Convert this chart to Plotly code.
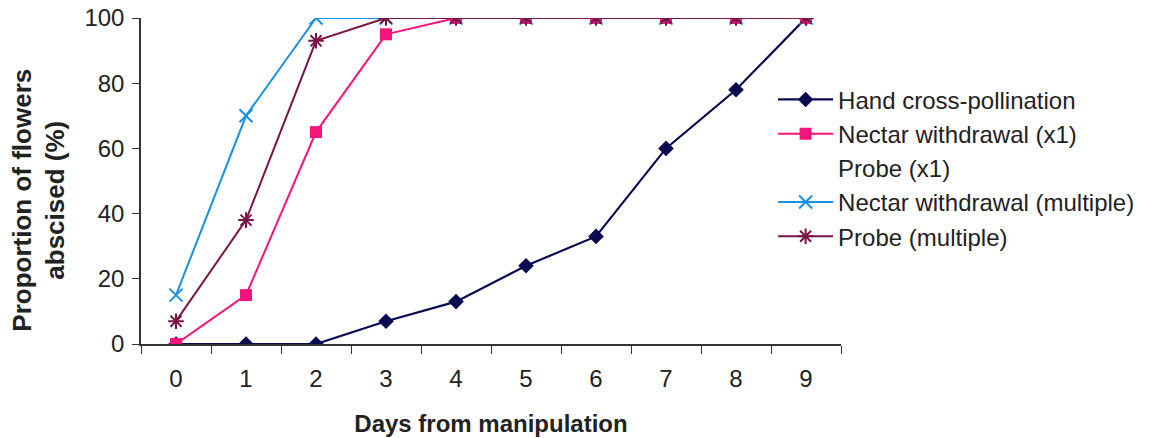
import plotly.graph_objects as go

days = ["0", "1", "2", "3", "4", "5", "6", "7", "8", "9"]
hand_cross = [0, 0, 0, 7, 13, 24, 33, 60, 78, 100]
nectar_x1 = [0, 15, 65, 95, 100, 100, 100, 100, 100, 100]
probe_x1 = [0, 0, 65, 95, 100, 100, 100, 100, 100, 100]
nectar_multi = [15, 70, 100, 100, 100, 100, 100, 100, 100, 100]
probe_multi = [7, 38, 93, 100, 100, 100, 100, 100, 100, 100]

fig = go.Figure()
# faint series drawn first so it sits under the others
fig.add_trace(go.Scatter(x=days, y=probe_x1, name="Probe (x1)", mode="lines",
                         line=dict(color="rgba(255,250,200,0.0)", width=1.5), legendrank=3))
fig.add_trace(go.Scatter(x=days, y=hand_cross, name="Hand cross-pollination", mode="lines+markers",
                         line=dict(color="#0a0a50", width=2.2),
                         marker=dict(symbol="diamond", size=12, color="#0a0a50"), legendrank=1))
fig.add_trace(go.Scatter(x=days, y=nectar_x1, name="Nectar withdrawal (x1)", mode="lines+markers",
                         line=dict(color="#f5157a", width=2),
                         marker=dict(symbol="square", size=12, color="#f5157a"), legendrank=2))
fig.add_trace(go.Scatter(x=days, y=nectar_multi, name="Nectar withdrawal (multiple)", mode="lines+markers",
                         line=dict(color="#1a90e0", width=2),
                         marker=dict(symbol="x-thin", size=13, color="#1a90e0",
                                     line=dict(color="#1a90e0", width=2)), legendrank=4))
fig.add_trace(go.Scatter(x=days, y=probe_multi, name="Probe (multiple)", mode="lines+markers",
                         line=dict(color="#7a1548", width=2),
                         marker=dict(symbol="asterisk", size=13, color="#7a1548",
                                     line=dict(color="#7a1548", width=2)), legendrank=5))

fig.update_layout(
    width=1172, height=438,
    margin=dict(l=141, r=331, t=18, b=94),
    paper_bgcolor="white", plot_bgcolor="white",
    font=dict(family="Liberation Sans, Arial, sans-serif", size=24, color="#222"),
    showlegend=True,
    legend=dict(x=0.903, y=0.818, xanchor="left", yanchor="top",
                font=dict(size=24, color="#222"), tracegroupgap=0,
                itemwidth=55, bgcolor="rgba(0,0,0,0)"),
    xaxis=dict(type="category", range=[-0.5, 9.5], showline=True, linecolor="#333",
               linewidth=1.5, ticks="outside", tickson="boundaries", ticklen=8,
               tickcolor="#333", showgrid=False, zeroline=False, automargin=False,
               tickfont=dict(size=24), ticklabelstandoff=12,
               title=dict(text="<b>Days from manipulation</b>", font=dict(size=24), standoff=25)),
    yaxis=dict(range=[0, 100], tickvals=[0, 20, 40, 60, 80, 100], showline=True,
               linecolor="#333", linewidth=1.5, ticks="outside", ticklen=7, tickcolor="#333",
               showgrid=False, zeroline=False, tickfont=dict(size=24), automargin=False,
               ticklabelstandoff=3),
    annotations=[dict(text="<b>Proportion of flowers<br>abscised (%)</b>", textangle=-90,
                      xref="paper", yref="paper", x=-0.147, y=0.44,
                      xanchor="center", yanchor="middle", showarrow=False,
                      font=dict(size=26, color="#222"))],
)

fig.write_html("out.html")
